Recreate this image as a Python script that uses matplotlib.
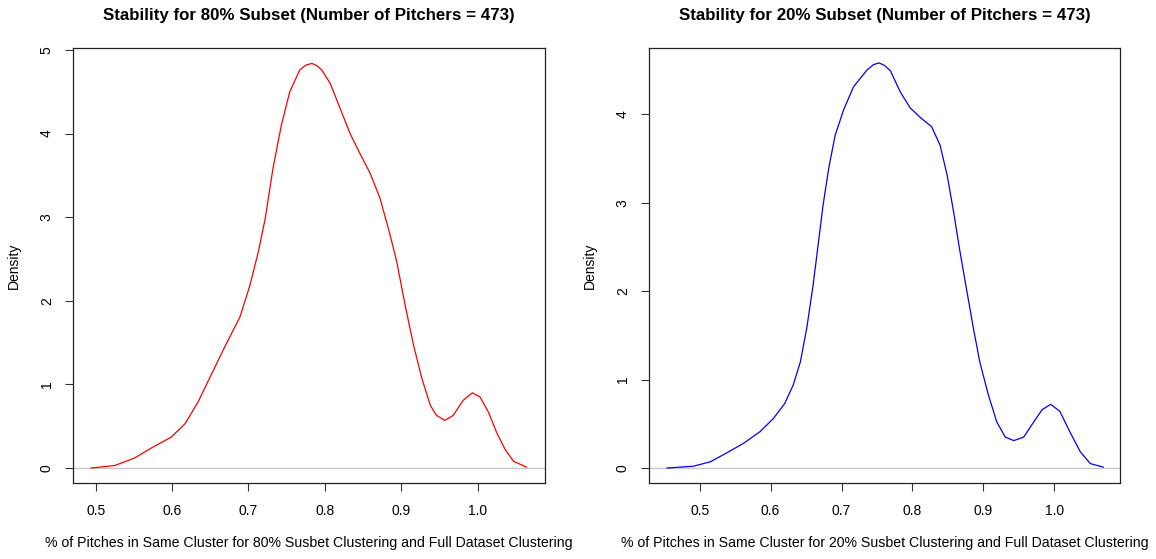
import matplotlib.pyplot as plt

plt.rcParams['font.family'] = ['Liberation Sans', 'DejaVu Sans']

# density curve for the 80% subset
x80 = [0.494, 0.525, 0.551, 0.573, 0.599, 0.617, 0.634, 0.652, 0.669, 0.689,
       0.702, 0.713, 0.722, 0.732, 0.743, 0.754, 0.767, 0.775, 0.783, 0.790,
       0.796, 0.807, 0.820, 0.833, 0.846, 0.859, 0.872, 0.885, 0.894, 0.905,
       0.916, 0.927, 0.938, 0.946, 0.957, 0.968, 0.981, 0.993, 1.003, 1.014,
       1.025, 1.036, 1.047, 1.064]
d80 = [0.00, 0.03, 0.12, 0.24, 0.37, 0.53, 0.79, 1.13, 1.45, 1.81,
       2.19, 2.59, 2.99, 3.58, 4.10, 4.50, 4.76, 4.82, 4.84, 4.81,
       4.76, 4.60, 4.30, 4.00, 3.76, 3.53, 3.23, 2.80, 2.47, 1.95,
       1.47, 1.07, 0.75, 0.63, 0.57, 0.63, 0.81, 0.90, 0.85, 0.67,
       0.42, 0.22, 0.08, 0.01]

# density curve for the 20% subset
x20 = [0.454, 0.491, 0.515, 0.538, 0.562, 0.585, 0.604, 0.620, 0.632, 0.642,
       0.651, 0.660, 0.667, 0.674, 0.682, 0.691, 0.703, 0.717, 0.736, 0.745,
       0.753, 0.761, 0.769, 0.783, 0.797, 0.813, 0.827, 0.839, 0.849, 0.858,
       0.867, 0.877, 0.886, 0.895, 0.907, 0.919, 0.931, 0.943, 0.957, 0.971,
       0.983, 0.995, 1.008, 1.022, 1.037, 1.051, 1.069]
d20 = [0.00, 0.02, 0.07, 0.17, 0.28, 0.41, 0.56, 0.73, 0.94, 1.20,
       1.58, 2.07, 2.52, 2.97, 3.39, 3.76, 4.05, 4.31, 4.50, 4.56,
       4.58, 4.55, 4.49, 4.25, 4.07, 3.95, 3.86, 3.65, 3.31, 2.90,
       2.45, 1.99, 1.58, 1.20, 0.83, 0.52, 0.35, 0.31, 0.35, 0.52,
       0.66, 0.72, 0.64, 0.41, 0.18, 0.05, 0.01]

xticks = [0.5, 0.6, 0.7, 0.8, 0.9, 1.0]
xticklabels = ['0.5', '0.6', '0.7', '0.8', '0.9', '1.0']

panels = [
    (x80, d80, 'red', 'Stability for 80% Subset (Number of Pitchers = 473)',
     '% of Pitches in Same Cluster for 80% Susbet Clustering and Full Dataset Clustering',
     [0, 1, 2, 3, 4, 5], (0.4707, 1.0877), (-0.183, 5.028),
     [0.0634, 0.1354, 0.4078, 0.7793]),
    (x20, d20, 'blue', 'Stability for 20% Subset (Number of Pitchers = 473)',
     '% of Pitches in Same Cluster for 20% Susbet Clustering and Full Dataset Clustering',
     [0, 1, 2, 3, 4], (0.429, 1.0928), (-0.173, 4.752),
     [0.5617, 0.1354, 0.4072, 0.7793]),
]

fig = plt.figure(figsize=(11.56, 5.59), dpi=100)

for xs, ds, col, title, xlab, yticks, xlim, ylim, pos in panels:
    ax = fig.add_axes(pos)
    ax.axhline(0, color='#c8c8c8', lw=1.0, zorder=1)
    ax.plot(xs, ds, color=col, lw=0.9, zorder=2, solid_joinstyle='round')
    ax.set_xlim(*xlim)
    ax.set_ylim(*ylim)
    ax.set_xticks(xticks)
    ax.set_xticklabels(xticklabels)
    ax.set_yticks(yticks)
    ax.set_yticklabels([str(t) for t in yticks], rotation=90, va='center')
    ax.tick_params(direction='out', length=6, width=0.8, labelsize=10, pad=9, color='#333333')
    ax.tick_params(axis='y', pad=8)
    for s in ax.spines.values():
        s.set_linewidth(0.9)
        s.set_color('#222222')
    ax.set_title(title, fontsize=12.2, fontweight='bold', pad=20)
    ax.set_xlabel(xlab, fontsize=10.15, labelpad=13)
    ax.set_ylabel('Density', fontsize=10, labelpad=14)

plt.savefig('out.png', dpi=100)
